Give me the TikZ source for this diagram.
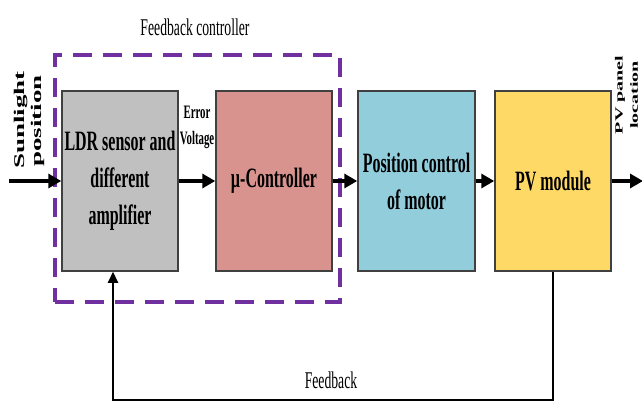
\documentclass[tikz,border=0pt]{standalone}
\usepackage{fontspec}
\setmainfont{Liberation Serif}
\newfontfamily\condfont{Liberation Serif}[FakeStretch=0.57]
\usetikzlibrary{arrows.meta}
\definecolor{boxgray}{HTML}{C0C0C0}
\definecolor{boxpink}{HTML}{D9938F}
\definecolor{boxblue}{HTML}{92CDDC}
\definecolor{boxyellow}{HTML}{FFD966}
\definecolor{fbpurple}{HTML}{7030A0}
\definecolor{edgegray}{HTML}{404040}
\tikzset{
  blockbox/.style={draw=edgegray, line width=1.5pt, minimum width=#1, minimum height=180pt, inner sep=0pt,
    align=center, font=\condfont\bfseries\fontsize{28}{37}\selectfont},
  flowarrow/.style={line width=3.5pt, -{Triangle[length=13pt,width=14pt]}},
  fbarrow/.style={line width=2.2pt, -{Triangle[length=11pt,width=10pt]}},
  ctrlbox/.style={draw=fbpurple, line width=3.5pt, dash pattern=on 19pt off 11pt},
  rotlabel/.style={rotate=90, inner sep=0pt, font=\bfseries\fontsize{#1}{#1}\selectfont},
}
\begin{document}
\begin{tikzpicture}[x=1pt,y=1pt]
\useasboundingbox (0,0) rectangle (642,-403);
% control box
\node[ctrlbox, minimum width=285pt, minimum height=247pt, inner sep=0pt] (ctrl) at (197.5,-178.5) {};
\node[font=\condfont\fontsize{24}{24}\selectfont, inner sep=0pt] (ctrllabel) at (195,-27) {Feedback controller};
% blocks
\node[blockbox=116pt, fill=boxgray] (b1) at (120,-181) {LDR sensor and\\different\\amplifier};
\node[blockbox=116pt, fill=boxpink] (b2) at (274,-181) {µ-Controller};
\node[blockbox=117pt, fill=boxblue] (b3) at (416.5,-181) {Position control\\of motor};
\node[blockbox=116pt, fill=boxyellow] (b4) at (553,-181) {PV module};
% input / output
\coordinate (in) at (9,-181);
\coordinate (out) at (643,-181);
\draw[flowarrow] (in) -- (b1.west);
\draw[flowarrow] (b1.east) -- (b2.west);
\draw[flowarrow] (b2.east) -- (b3.west);
\draw[flowarrow] (b3.east) -- (b4.west);
\draw[flowarrow] (b4.east) -- (out);
% error voltage
\node[font=\condfont\bfseries\fontsize{19}{19}\selectfont, inner sep=0pt] (err) at (197,-112) {Error};
\node[font=\condfont\bfseries\fontsize{19}{19}\selectfont, inner sep=0pt] (volt) at (197,-140) {Voltage};
% rotated labels
\node[rotlabel=27] (sun) at (21,-120) {\scalebox{1}[0.55]{Sunlight}};
\node[rotlabel=27] (pos) at (38,-121) {\scalebox{1}[0.55]{position}};
\node[rotlabel=20] (pvp) at (620,-95) {\scalebox{1}[0.55]{PV panel}};
\node[rotlabel=20] (loc) at (634,-95) {\scalebox{1}[0.55]{location}};
% feedback
\coordinate (fbr) at (553,-400);
\coordinate (fbl) at (113,-400);
\draw[fbarrow] (b4.south) -- (fbr) -- (fbl) -- (fbl |- b1.south);
\node[font=\condfont\fontsize{24}{24}\selectfont, inner sep=0pt] (fblabel) at (331,-380) {Feedback};
\end{tikzpicture}
\end{document}
